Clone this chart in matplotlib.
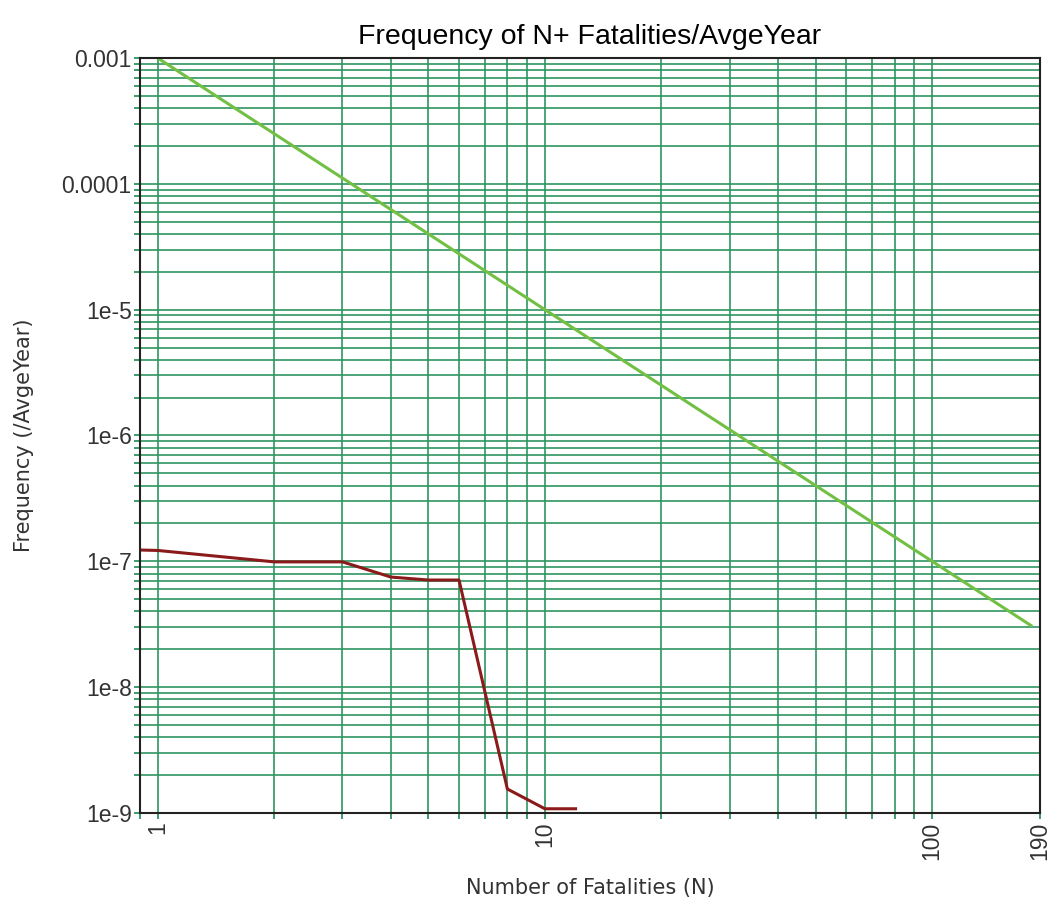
import matplotlib.pyplot as plt
from matplotlib.ticker import FixedLocator, FixedFormatter, LogLocator, NullFormatter

plt.rcParams['font.family'] = ['Liberation Sans', 'DejaVu Sans']

# criterion line
crit_n = [1, 180]
crit_f = [1e-3, 3.09e-8]

# F-N curve
fn_n = [0.9, 1, 2, 3, 4, 5, 6, 8, 10, 12]
fn_f = [1.23e-7, 1.22e-7, 9.9e-8, 9.9e-8, 7.5e-8, 7.1e-8, 7.1e-8, 1.55e-9, 1.08e-9, 1.08e-9]

x_ticks = [1, 10, 100, 190]
x_labels = ['1', '10', '100', '190']
y_ticks = [1e-9, 1e-8, 1e-7, 1e-6, 1e-5, 1e-4, 1e-3]
y_labels = ['1e-9', '1e-8', '1e-7', '1e-6', '1e-5', '0.0001', '0.001']

grid_col = '#2e9460'
txt_col = '#333333'

fig = plt.figure(figsize=(10.48, 9.01), dpi=100)
ax = fig.add_axes([0.1336, 0.0977, 0.8588, 0.8379])

ax.plot(crit_n, crit_f, color='#72c043', lw=2.2)
ax.plot(fn_n, fn_f, color='#8b1a1a', lw=2.2)

ax.set_xscale('log')
ax.set_yscale('log')
ax.set_xlim(0.9, 190)
ax.set_ylim(1e-9, 1e-3)

ax.xaxis.set_major_locator(FixedLocator(x_ticks))
ax.xaxis.set_major_formatter(FixedFormatter(x_labels))
ax.xaxis.set_minor_locator(LogLocator(base=10, subs=range(2, 10)))
ax.xaxis.set_minor_formatter(NullFormatter())
ax.yaxis.set_major_locator(FixedLocator(y_ticks))
ax.yaxis.set_major_formatter(FixedFormatter(y_labels))
ax.yaxis.set_minor_locator(LogLocator(base=10, subs=range(2, 10)))
ax.yaxis.set_minor_formatter(NullFormatter())

ax.grid(True, which='both', color=grid_col, lw=1.4, alpha=0.85)
ax.set_axisbelow(True)
ax.tick_params(which='both', direction='out', length=4, width=1.3, color=grid_col)
ax.tick_params(axis='both', labelsize=16.5, labelcolor=txt_col, pad=2)
ax.tick_params(axis='x', labelrotation=90)

for s in ax.spines.values():
    s.set_color('#222222')
    s.set_linewidth(1.5)

ax.set_title('Frequency of N+ Fatalities/AvgeYear', fontsize=20.5, pad=10)
ax.set_xlabel('Number of Fatalities (N)', fontsize=15, color=txt_col,
              family=['DejaVu Sans'])
ax.set_ylabel('Frequency (/AvgeYear)', fontsize=15, color=txt_col,
              family=['DejaVu Sans'])
ax.xaxis.set_label_coords(0.5, -0.086)
ax.yaxis.set_label_coords(-0.118, 0.5)

fig.savefig('out.png', dpi=100)
